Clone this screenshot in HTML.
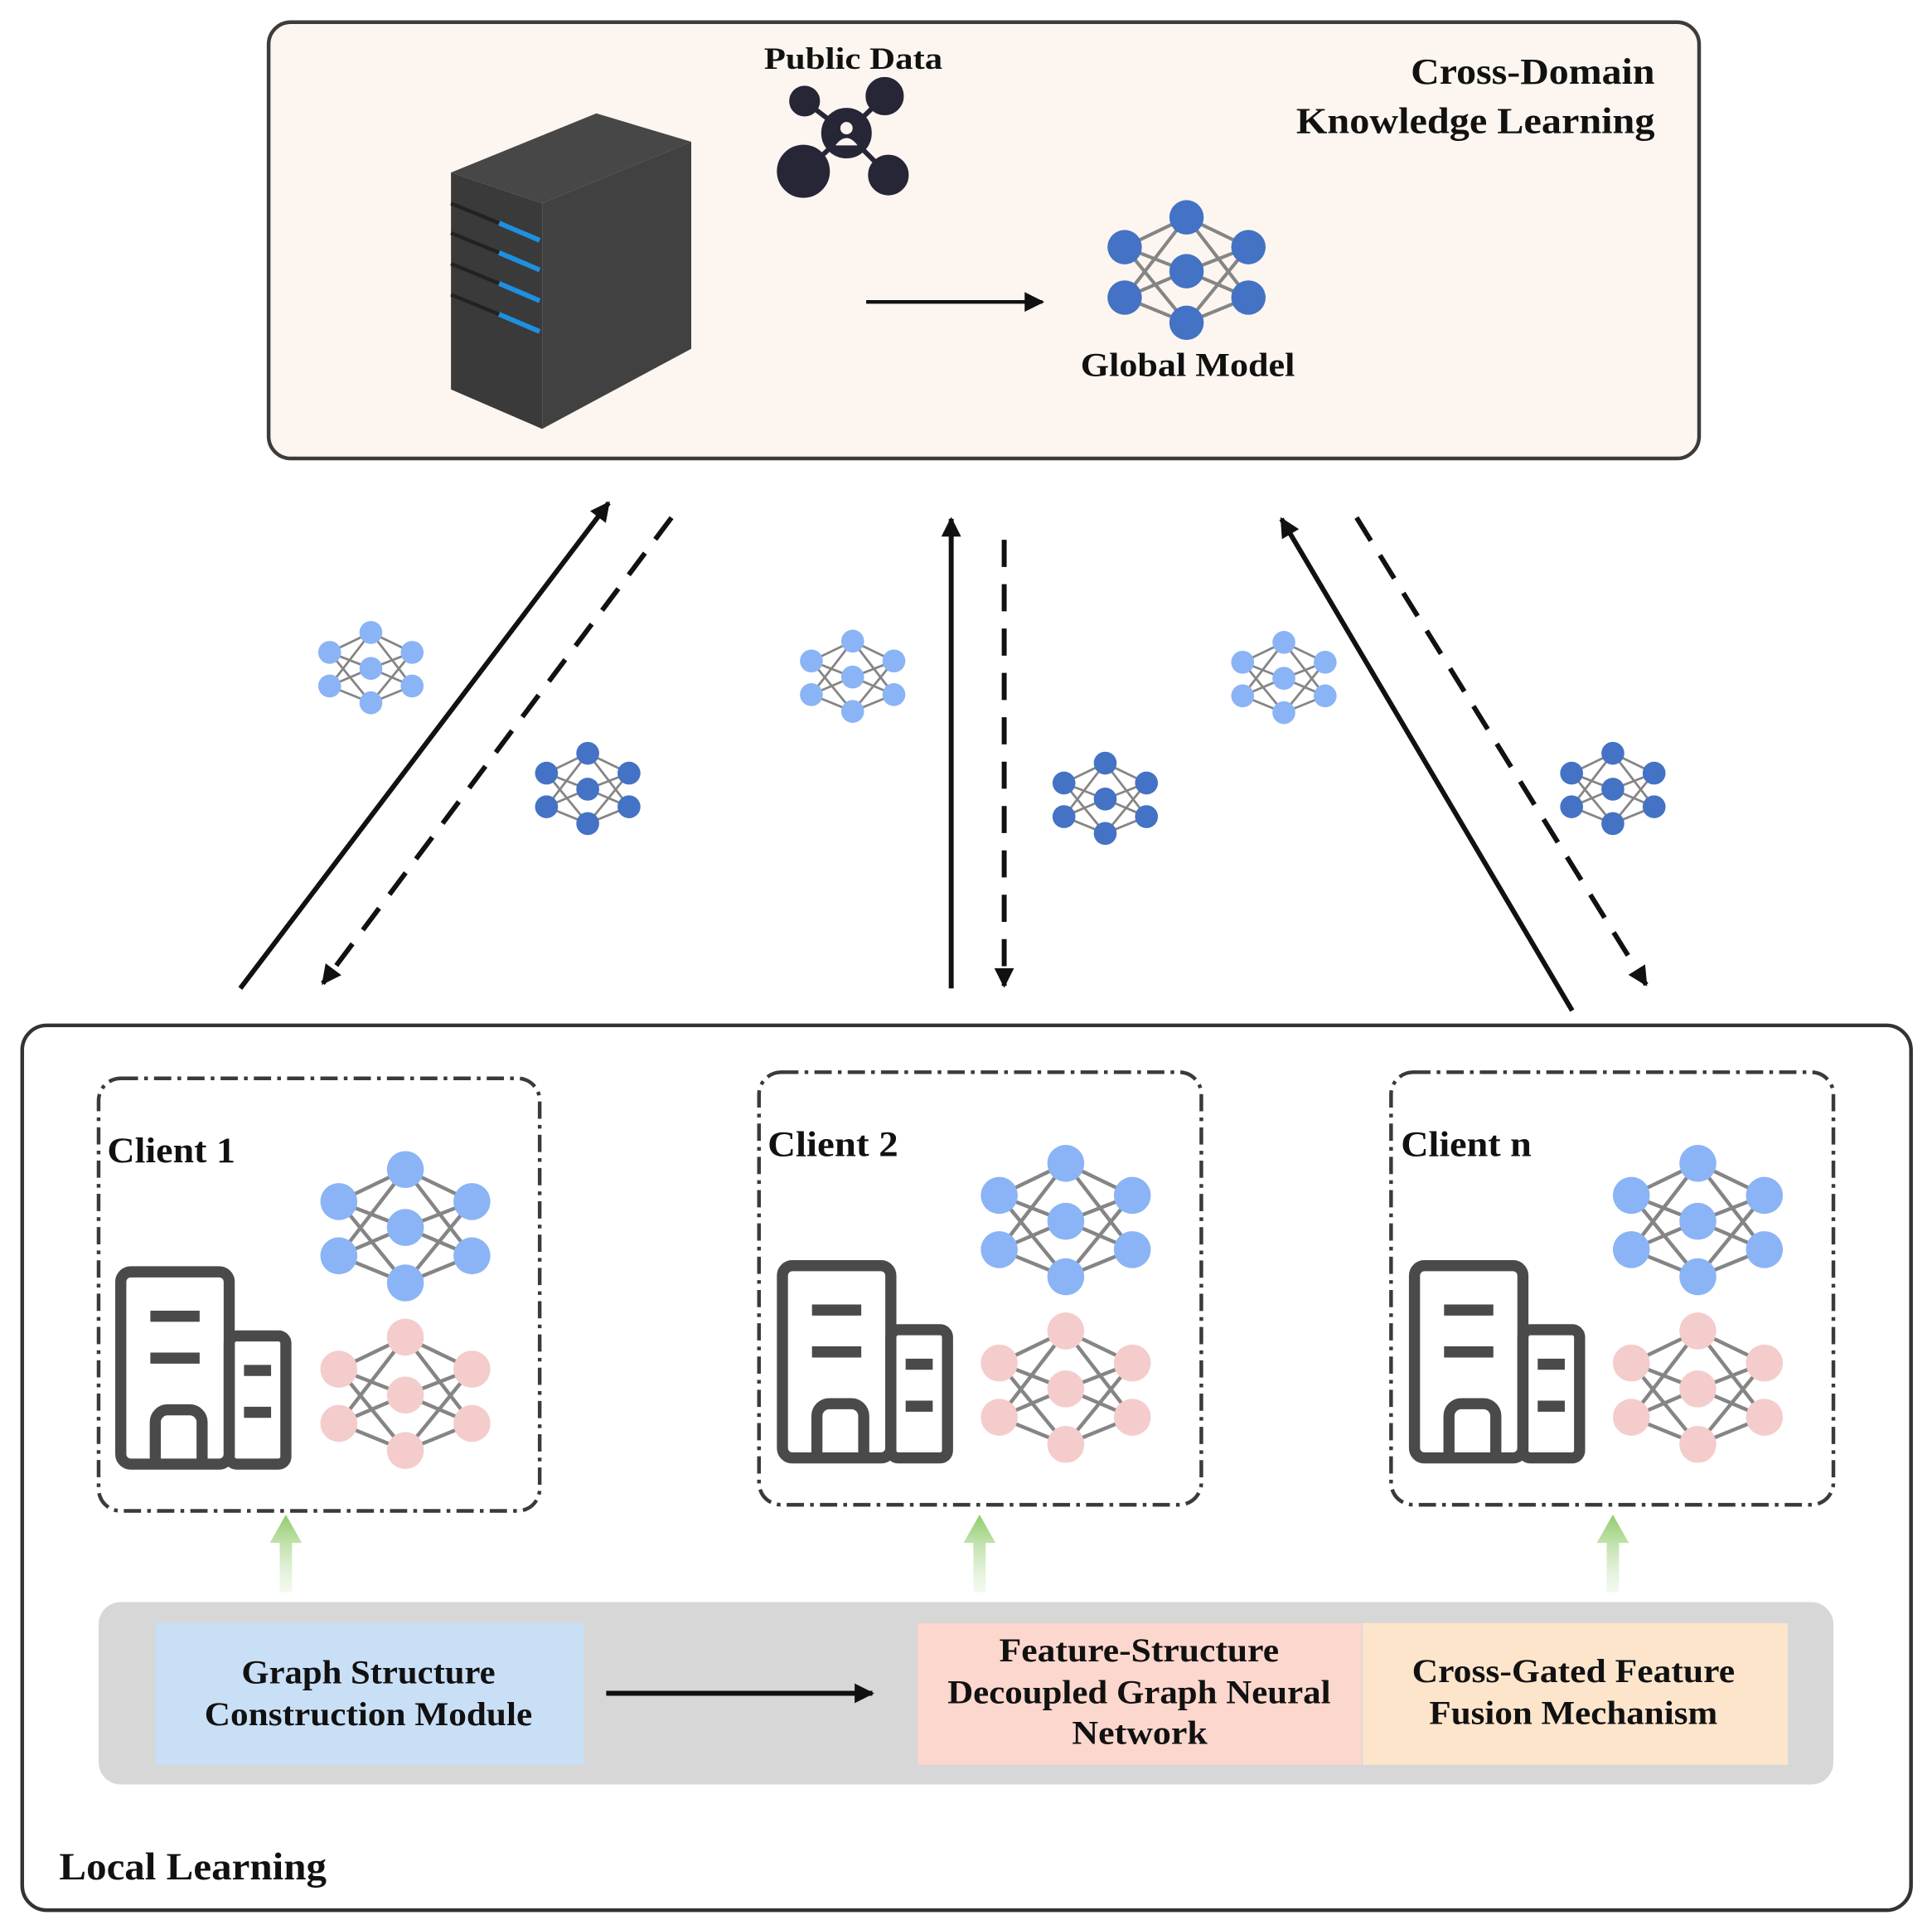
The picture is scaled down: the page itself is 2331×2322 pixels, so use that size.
<!DOCTYPE html>
<html><head><meta charset="utf-8"><style>
html,body{margin:0;padding:0;background:#fff;}
svg{display:block;}
text{font-family:"Liberation Serif",serif;font-weight:bold;fill:#111;}
</style></head><body>
<svg width="2331" height="2322" viewBox="0 0 1568 1562" xmlns="http://www.w3.org/2000/svg">
<defs>
<g id="net">
<g stroke="#858585" stroke-width="3">
<line x1="-54" y1="-22" x2="0" y2="-48"/><line x1="-54" y1="-22" x2="0" y2="-1"/><line x1="-54" y1="-22" x2="0" y2="44"/>
<line x1="-54" y1="22" x2="0" y2="-48"/><line x1="-54" y1="22" x2="0" y2="-1"/><line x1="-54" y1="22" x2="0" y2="44"/>
<line x1="54" y1="-22" x2="0" y2="-48"/><line x1="54" y1="-22" x2="0" y2="-1"/><line x1="54" y1="-22" x2="0" y2="44"/>
<line x1="54" y1="22" x2="0" y2="-48"/><line x1="54" y1="22" x2="0" y2="-1"/><line x1="54" y1="22" x2="0" y2="44"/>
</g>
<circle cx="-54" cy="-22" r="15"/><circle cx="-54" cy="22" r="15"/>
<circle cx="0" cy="-48" r="15"/><circle cx="0" cy="-1" r="15"/><circle cx="0" cy="44" r="15"/>
<circle cx="54" cy="-22" r="15"/><circle cx="54" cy="22" r="15"/>
</g>
<g id="bld" fill="none" stroke="#4a4a4a" stroke-width="9" stroke-linejoin="round">
<rect x="0" y="0" width="88" height="156" rx="8"/>
<rect x="88" y="52" width="46" height="104" rx="6"/>
<path d="M28 156 V122 a10 10 0 0 1 10 -10 h18 a10 10 0 0 1 10 10 V156"/>
<line x1="24" y1="36" x2="64" y2="36"/><line x1="24" y1="70" x2="64" y2="70"/>
<line x1="100" y1="80" x2="122" y2="80"/><line x1="100" y1="114" x2="122" y2="114"/>
</g>
<marker id="ah" viewBox="0 0 10 10" refX="9" refY="5" markerWidth="18" markerHeight="16" markerUnits="userSpaceOnUse" orient="auto"><path d="M0 0 L10 5 L0 10 z" fill="#111"/></marker>
<linearGradient id="gg" x1="0" y1="1" x2="0" y2="0"><stop offset="0" stop-color="#d8eccb" stop-opacity="0.3"/><stop offset="1" stop-color="#8fcb6a"/></linearGradient>
</defs>

<rect x="218" y="18" width="1161" height="354" rx="18" fill="#fdf6f0" stroke="#3c3c3c" stroke-width="3"/>
<text x="1145" y="68" font-size="30" textLength="198" lengthAdjust="spacingAndGlyphs">Cross-Domain</text>
<text x="1052" y="108" font-size="30" textLength="291" lengthAdjust="spacingAndGlyphs">Knowledge Learning</text>
<text x="620" y="56" font-size="25" textLength="145" lengthAdjust="spacingAndGlyphs">Public Data</text>
<g fill="#262637" stroke="#262637">
<line x1="653" y1="82" x2="687" y2="108" stroke-width="4"/><line x1="718" y1="78" x2="687" y2="108" stroke-width="4"/>
<line x1="652" y1="140" x2="687" y2="108" stroke-width="4"/><line x1="721" y1="142" x2="687" y2="108" stroke-width="4"/>
<circle cx="653" cy="82" r="12"/><circle cx="718" cy="78" r="15"/><circle cx="652" cy="139" r="21"/><circle cx="721" cy="142" r="16"/>
<circle cx="687" cy="108" r="20"/>
</g>
<circle cx="687" cy="104" r="5" fill="#fdf6f0"/><path d="M678 118 q9 -12 18 0 z" fill="#fdf6f0"/>
<polygon points="366,140 484,92 561,115 440,165" fill="#474747"/>
<polygon points="366,140 440,165 440,348 366,316" fill="#3a3a3a"/>
<polygon points="440,165 561,115 561,283 440,348" fill="#414141"/>
<g stroke="#1e90e0" stroke-width="4">
<line x1="405" y1="181" x2="438" y2="195"/><line x1="405" y1="205" x2="438" y2="219"/>
<line x1="405" y1="230" x2="438" y2="244"/><line x1="405" y1="255" x2="438" y2="269"/>
</g>
<g stroke="#222" stroke-width="3">
<line x1="366" y1="165" x2="405" y2="181"/><line x1="366" y1="189" x2="405" y2="205"/><line x1="366" y1="214" x2="405" y2="230"/><line x1="366" y1="239" x2="405" y2="255"/>
</g>
<line x1="703" y1="245" x2="846" y2="245" stroke="#111" stroke-width="3" marker-end="url(#ah)"/>
<use href="#net" transform="translate(963,221) scale(0.93)" fill="#4472c4"/>
<text x="877" y="305" font-size="27" textLength="174" lengthAdjust="spacingAndGlyphs">Global Model</text>

<g stroke="#111" stroke-width="4" fill="none">
<line x1="195" y1="802" x2="494" y2="408" marker-end="url(#ah)"/>
<line x1="545" y1="420" x2="262" y2="798" stroke-dasharray="22 14" marker-end="url(#ah)"/>
<line x1="772" y1="802" x2="772" y2="421" marker-end="url(#ah)"/>
<line x1="815" y1="438" x2="815" y2="800" stroke-dasharray="22 14" marker-end="url(#ah)"/>
<line x1="1276" y1="820" x2="1040" y2="421" marker-end="url(#ah)"/>
<line x1="1101" y1="420" x2="1336" y2="799" stroke-dasharray="22 14" marker-end="url(#ah)"/>
</g>
<use href="#net" transform="translate(301,543) scale(0.62)" fill="#8ab4f5"/>
<use href="#net" transform="translate(477,641) scale(0.62)" fill="#4472c4"/>
<use href="#net" transform="translate(692,550) scale(0.62)" fill="#8ab4f5"/>
<use href="#net" transform="translate(897,649) scale(0.62)" fill="#4472c4"/>
<use href="#net" transform="translate(1042,551) scale(0.62)" fill="#8ab4f5"/>
<use href="#net" transform="translate(1309,641) scale(0.62)" fill="#4472c4"/>

<rect x="18" y="832" width="1533" height="718" rx="20" fill="#fff" stroke="#333" stroke-width="3"/>
<g fill="none" stroke="#3a3a3a" stroke-width="3" stroke-dasharray="14 5 3 5">
<rect x="80" y="875" width="358" height="351" rx="18"/>
<rect x="616" y="870" width="359" height="351" rx="18"/>
<rect x="1129" y="870" width="359" height="351" rx="18"/>
</g>
<text x="87" y="943" font-size="29" textLength="104" lengthAdjust="spacingAndGlyphs">Client 1</text>
<text x="623" y="938" font-size="29" textLength="106" lengthAdjust="spacingAndGlyphs">Client 2</text>
<text x="1137" y="938" font-size="29" textLength="106" lengthAdjust="spacingAndGlyphs">Client n</text>

<use href="#bld" transform="translate(98,1032)"/>
<use href="#bld" transform="translate(635,1027)"/>
<use href="#bld" transform="translate(1148,1027)"/>
<use href="#net" transform="translate(329,997)" fill="#8ab4f5"/>
<use href="#net" transform="translate(329,1133)" fill="#f4cccc"/>
<use href="#net" transform="translate(865,992)" fill="#8ab4f5"/>
<use href="#net" transform="translate(865,1128)" fill="#f4cccc"/>
<use href="#net" transform="translate(1378,992)" fill="#8ab4f5"/>
<use href="#net" transform="translate(1378,1128)" fill="#f4cccc"/>

<g fill="url(#gg)">
<path d="M227 1292 V1252 H219 L232 1229 L245 1252 H237 V1292 z"/>
<path d="M790 1292 V1252 H782 L795 1229 L808 1252 H800 V1292 z"/>
<path d="M1304 1292 V1252 H1296 L1309 1229 L1322 1252 H1314 V1292 z"/>
</g>

<rect x="80" y="1300" width="1408" height="148" rx="18" fill="#d7d7d7"/>
<rect x="126" y="1317" width="348" height="115" fill="#c9dff5"/>
<rect x="745" y="1317" width="360" height="115" fill="#fcd7cd"/>
<rect x="1106" y="1317" width="345" height="115" fill="#fde5cc"/>
<text x="196" y="1366" font-size="27" textLength="206" lengthAdjust="spacingAndGlyphs">Graph Structure</text>
<text x="166" y="1400" font-size="27" textLength="266" lengthAdjust="spacingAndGlyphs">Construction Module</text>
<text x="811" y="1348" font-size="27" textLength="227" lengthAdjust="spacingAndGlyphs">Feature-Structure</text>
<text x="769" y="1382" font-size="27" textLength="311" lengthAdjust="spacingAndGlyphs">Decoupled Graph Neural</text>
<text x="870" y="1415" font-size="27" textLength="110" lengthAdjust="spacingAndGlyphs">Network</text>
<text x="1146" y="1365" font-size="27" textLength="262" lengthAdjust="spacingAndGlyphs">Cross-Gated Feature</text>
<text x="1160" y="1399" font-size="27" textLength="234" lengthAdjust="spacingAndGlyphs">Fusion Mechanism</text>
<line x1="492" y1="1374" x2="708" y2="1374" stroke="#111" stroke-width="4" marker-end="url(#ah)"/>

<text x="48" y="1525" font-size="31" textLength="217" lengthAdjust="spacingAndGlyphs">Local Learning</text>
</svg>
</body></html>
